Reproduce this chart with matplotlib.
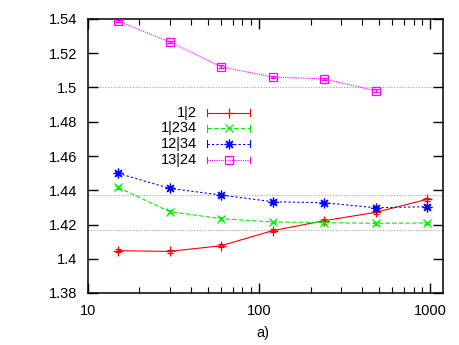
import matplotlib
matplotlib.use("Agg")
import matplotlib.pyplot as plt
from matplotlib.lines import Line2D
from matplotlib.ticker import LogLocator, FixedLocator, NullFormatter

plt.rcParams['font.family'] = ['Liberation Sans', 'DejaVu Sans']

sizes = [15, 30, 60, 120, 240, 480, 960]
labels = ["1|2", "1|234", "12|34", "13|24"]
v_12 = [1.4047, 1.4043, 1.4076, 1.4164, 1.4222, 1.4271, 1.4347]
v_1234 = [1.4417, 1.4275, 1.4234, 1.4215, 1.4211, 1.4207, 1.4209]
v_1234b = [1.4499, 1.4411, 1.4372, 1.4333, 1.4327, 1.4298, 1.4304]
v_1324 = [1.5388, 1.5266, 1.5121, 1.5061, 1.5050, 1.4981]
err = [0.0008, 0.0008, 0.0008, 0.0008, 0.0008, 0.0008, 0.0008]
ref_lines = [1.5, 1.4375, 1.41667]
yticks = [1.38, 1.40, 1.42, 1.44, 1.46, 1.48, 1.50, 1.52, 1.54]
ytick_labels = ["1.38", "1.4", "1.42", "1.44", "1.46", "1.48", "1.5", "1.52", "1.54"]
xticks = [10, 100, 1000]
xtick_labels = ["10", "100", "1000"]

series = [
    (v_12, '#ff0000', '-', '+', 7, 'none'),
    (v_1234, '#00ee00', (0, (4, 2)), 'x', 6, 'none'),
    (v_1234b, '#0000ff', (0, (2, 2)), (8, 2, 0), 7, 'none'),
    (v_1324, '#ff00ff', (0, (1, 1)), 's', 6, 'none'),
]

fig = plt.figure(figsize=(4.6, 3.45), dpi=100)
ax = fig.add_axes([88/460, 1-293/345, (443-88)/460, (293-19)/345])

for y in ref_lines:
    ax.axhline(y, color='#a0a0a0', lw=0.8, ls=(0, (1, 1.5)), zorder=1)

for (vals, c, ls, mk, ms, fc), lab in zip(series, labels):
    xs = sizes[:len(vals)]
    ax.errorbar(xs, vals, yerr=err[:len(vals)], color=c, ls=ls, lw=0.8,
                marker=mk, ms=ms, mfc=fc, mec=c, mew=0.9, capsize=2,
                elinewidth=0.8, zorder=3)

ax.set_xscale('log')
ax.set_xlim(10, 1190)
ax.set_ylim(1.38, 1.54)
ax.xaxis.set_major_locator(FixedLocator(xticks))
ax.set_xticklabels(xtick_labels)
ax.xaxis.set_minor_locator(LogLocator(base=10, subs=range(2, 10)))
ax.xaxis.set_minor_formatter(NullFormatter())
ax.set_yticks(yticks)
ax.set_yticklabels(ytick_labels)
ax.tick_params(which='major', direction='in', length=7, width=1, top=True, right=True,
               labelsize=10.5, pad=8)
ax.tick_params(which='minor', direction='in', length=4, width=0.8, top=True, right=True)
for s in ax.spines.values():
    s.set_linewidth(1.1)

# manual legend (gnuplot-style, text right-aligned)
x_text = (197-88)/355
x0, x1 = (207-88)/355, (250-88)/355
rows = [(293-112.5)/274, (293-128.3)/274, (293-143.7)/274, (293-160)/274]
for (vals, c, ls, mk, ms, fc), lab, yr in zip(series, labels, rows):
    ax.text(x_text, yr, lab, transform=ax.transAxes, ha='right', va='center', fontsize=10.5)
    ax.add_line(Line2D([x0, x1], [yr, yr], transform=ax.transAxes, color=c, ls=ls, lw=0.8))
    ax.add_line(Line2D([(x0+x1)/2], [yr], transform=ax.transAxes, color=c, marker=mk,
                       ms=ms, mfc=fc, mec=c, mew=0.9, ls='none'))
    for xe in (x0, x1):
        ax.add_line(Line2D([xe, xe], [yr-0.012, yr+0.012], transform=ax.transAxes, color=c, lw=0.8))

fig.text(263/460, 1-333/345, "a)", ha='center', va='center', fontsize=10.5)

fig.savefig("out.png", dpi=100)
